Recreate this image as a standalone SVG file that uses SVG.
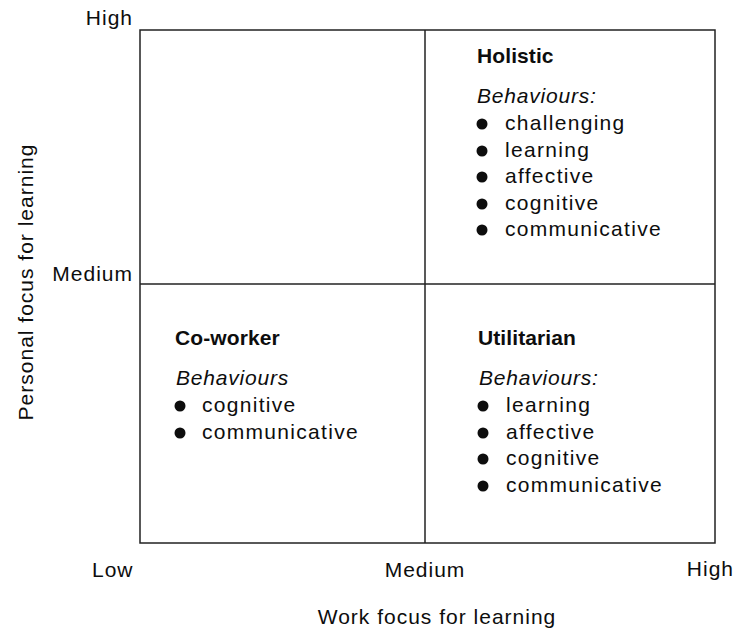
<svg xmlns="http://www.w3.org/2000/svg" width="737" height="630" viewBox="0 0 737 630">
  <style>
    text { font-family: "Liberation Sans", Arial, sans-serif; fill: #0d0d0d; font-size: 21px; }
    .axis { letter-spacing: 1px; }
    .title { font-weight: bold; letter-spacing: 0.1px; }
    .sub { font-style: italic; letter-spacing: 0.8px; }
    .item { letter-spacing: 1.3px; }
    .frame { fill: none; stroke: #222; stroke-width: 1.5; }
    .bullet { fill: #0d0d0d; }
  </style>
  <rect width="737" height="630" fill="#fff"/>

  <!-- quadrant frame and dividers -->
  <g id="grid">
    <rect class="frame" x="140" y="30" width="575" height="513"/>
    <line class="frame" x1="425" y1="30" x2="425" y2="543"/>
    <line class="frame" x1="140" y1="284" x2="715" y2="284"/>
  </g>

  <!-- axis scale labels -->
  <g id="axis-y">
    <text class="axis" x="133" y="25" text-anchor="end" letter-spacing="0.2">High</text>
    <text class="axis" x="133" y="281" text-anchor="end" letter-spacing="1.3">Medium</text>
    <text class="axis" transform="translate(33,282) rotate(-90)" text-anchor="middle" letter-spacing="1.15">Personal focus for learning</text>
  </g>
  <g id="axis-x">
    <text class="axis" x="92" y="577" letter-spacing="0.8">Low</text>
    <text class="axis" x="425" y="577" text-anchor="middle" letter-spacing="1.4">Medium</text>
    <text class="axis" x="734" y="576" text-anchor="end" letter-spacing="0.2">High</text>
    <text class="axis" x="437" y="624" text-anchor="middle" letter-spacing="0.75">Work focus for learning</text>
  </g>

  <!-- Holistic quadrant -->
  <g id="holistic">
    <text class="title" x="477" y="63">Holistic</text>
    <text class="sub" x="477" y="103">Behaviours:</text>
    <circle class="bullet" cx="482" cy="124" r="5.5"/>
    <text class="item" x="505" y="130">challenging</text>
    <circle class="bullet" cx="482" cy="151" r="5.5"/>
    <text class="item" x="505" y="157">learning</text>
    <circle class="bullet" cx="482" cy="177" r="5.5"/>
    <text class="item" x="505" y="183">affective</text>
    <circle class="bullet" cx="482" cy="204" r="5.5"/>
    <text class="item" x="505" y="210">cognitive</text>
    <circle class="bullet" cx="482" cy="230" r="5.5"/>
    <text class="item" x="505" y="236">communicative</text>
  </g>

  <!-- Co-worker quadrant -->
  <g id="co-worker">
    <text class="title" x="175" y="345">Co-worker</text>
    <text class="sub" x="176" y="385">Behaviours</text>
    <circle class="bullet" cx="180" cy="406" r="5.5"/>
    <text class="item" x="202" y="412">cognitive</text>
    <circle class="bullet" cx="180" cy="433" r="5.5"/>
    <text class="item" x="202" y="439">communicative</text>
  </g>

  <!-- Utilitarian quadrant -->
  <g id="utilitarian">
    <text class="title" x="478" y="345">Utilitarian</text>
    <text class="sub" x="479" y="385">Behaviours:</text>
    <circle class="bullet" cx="483" cy="406" r="5.5"/>
    <text class="item" x="506" y="412">learning</text>
    <circle class="bullet" cx="483" cy="433" r="5.5"/>
    <text class="item" x="506" y="439">affective</text>
    <circle class="bullet" cx="483" cy="459" r="5.5"/>
    <text class="item" x="506" y="465">cognitive</text>
    <circle class="bullet" cx="483" cy="486" r="5.5"/>
    <text class="item" x="506" y="492">communicative</text>
  </g>
</svg>
